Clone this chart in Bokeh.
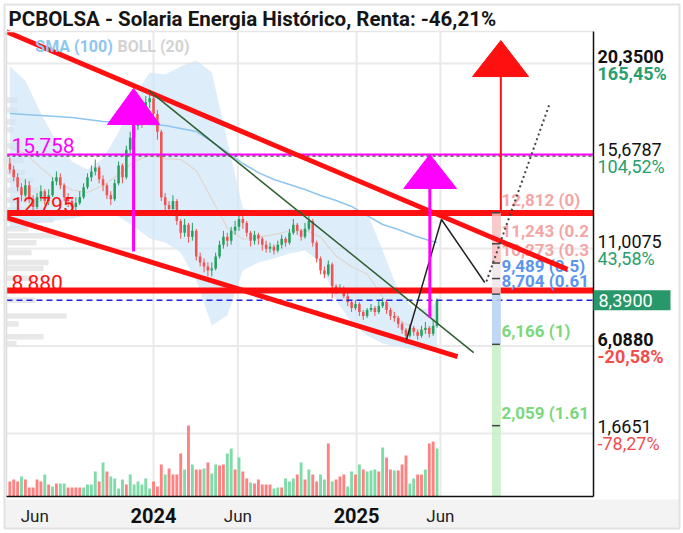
import pandas as pd
from bokeh.plotting import figure
from bokeh.models import Range1d
from bokeh.core.properties import value
from bokeh.embed import file_html
from bokeh.resources import INLINE


def ms(s):
    return pd.Timestamp(s).value / 1e6


DAY = 86400000.0
FONT = "Roboto"

# ---------------- data ----------------
week_dates = pd.date_range("2023-04-17", periods=111, freq="7D")

opens = [15.3, 15.0, 14.6, 14.1, 13.7, 14.2, 13.5, 13.1, 13.6, 13.9, 13.4, 13.7, 14.4, 14.6, 14.2, 13.6,
         13.4, 13.1, 13.3, 13.6, 14.1, 14.6, 14.9, 15.1, 14.5, 14.2, 13.7, 13.5, 14.3, 15.2, 14.6, 16.0,
         16.6, 17.2, 17.6, 17.5, 18.4, 18.6, 17.8, 16.9, 13.6, 13.2, 13.0, 13.4, 12.4, 11.8, 12.2, 11.6,
         11.9, 10.6, 10.3, 10.1, 9.9, 10.0, 10.6, 11.2, 11.6, 11.4, 11.9, 12.1, 12.5, 12.3, 11.8, 11.4,
         11.7, 11.5, 11.2, 11.0, 11.1, 10.9, 11.2, 11.5, 11.3, 11.8, 12.2, 11.9, 11.6, 12.0, 12.4, 11.3,
         10.5, 9.9, 9.7, 10.2, 9.1, 8.9, 9.0, 8.6, 8.3, 8.0, 8.2, 7.8, 7.6, 7.9, 8.0, 7.8,
         8.1, 8.3, 7.9, 7.6, 7.5, 7.2, 6.9, 6.6, 7.0, 6.8, 6.6, 6.9, 7.0, 6.7, 7.1]
closes = [15.0, 14.6, 14.1, 13.7, 14.2, 13.5, 13.1, 13.6, 13.9, 13.4, 13.7, 14.4, 14.6, 14.2, 13.6, 13.4,
          13.1, 13.3, 13.6, 14.1, 14.6, 14.9, 15.1, 14.5, 14.2, 13.7, 13.5, 14.3, 15.2, 14.6, 16.0, 16.6,
          17.2, 17.6, 17.5, 18.4, 18.6, 17.8, 16.9, 13.6, 13.2, 13.0, 13.4, 12.4, 11.8, 12.2, 11.6, 11.9,
          10.6, 10.3, 10.1, 9.9, 10.0, 10.6, 11.2, 11.6, 11.4, 11.9, 12.1, 12.5, 12.3, 11.8, 11.4, 11.7,
          11.5, 11.2, 11.0, 11.1, 10.9, 11.2, 11.5, 11.3, 11.8, 12.2, 11.9, 11.6, 12.0, 12.4, 11.3, 10.5,
          9.9, 9.7, 10.2, 9.1, 8.9, 9.0, 8.6, 8.3, 8.0, 8.2, 7.8, 7.6, 7.9, 8.0, 7.8, 8.1,
          8.3, 7.9, 7.6, 7.5, 7.2, 6.9, 6.6, 7.0, 6.8, 6.6, 6.9, 7.0, 6.7, 7.1, 8.39]
highs = [15.6, 15.2, 14.8, 14.3, 14.5, 14.4, 13.7, 13.8, 14.2, 14.0, 14.0, 14.6, 14.9, 14.8, 14.3, 13.8,
         13.5, 13.6, 13.9, 14.3, 14.8, 15.2, 15.5, 15.2, 14.7, 14.3, 13.9, 14.5, 15.4, 15.3, 16.2, 16.9,
         17.5, 18.0, 18.0, 18.7, 19.0, 18.8, 18.0, 17.0, 13.8, 13.4, 13.7, 13.5, 12.5, 12.5, 12.3, 12.3,
         12.0, 10.8, 10.5, 10.3, 10.3, 10.8, 11.4, 11.9, 11.8, 12.1, 12.4, 12.8, 12.8, 12.4, 11.9, 11.9,
         11.8, 11.6, 11.4, 11.3, 11.2, 11.4, 11.7, 11.6, 12.0, 12.5, 12.3, 12.0, 12.3, 12.8, 12.5, 11.4,
         10.6, 10.1, 10.4, 10.3, 9.2, 9.2, 9.1, 8.8, 8.4, 8.4, 8.3, 7.9, 8.0, 8.2, 8.1, 8.4,
         8.5, 8.4, 8.0, 7.8, 7.6, 7.3, 7.0, 7.2, 7.1, 6.9, 7.1, 7.3, 7.1, 7.4, 8.5]
lows = [14.8, 14.4, 13.9, 13.4, 13.6, 13.3, 12.8, 13.0, 13.4, 13.2, 13.2, 13.6, 14.2, 14.0, 13.4, 13.1,
        12.9, 12.9, 13.2, 13.5, 14.0, 14.4, 14.7, 14.3, 13.9, 13.5, 13.2, 13.4, 14.2, 14.3, 14.5, 15.8,
        16.4, 17.0, 17.1, 17.3, 18.1, 17.5, 16.5, 13.4, 12.9, 12.7, 12.8, 12.2, 11.5, 11.6, 11.3, 11.4,
        10.4, 10.1, 9.8, 9.6, 9.6, 9.9, 10.5, 11.0, 11.1, 11.2, 11.7, 11.9, 12.0, 11.6, 11.1, 11.2,
        11.2, 10.9, 10.8, 10.8, 10.7, 10.8, 11.0, 11.1, 11.2, 11.7, 11.7, 11.4, 11.5, 11.9, 11.1, 10.3,
        9.7, 9.5, 9.6, 8.5, 8.7, 8.8, 8.5, 8.1, 7.8, 7.9, 7.6, 7.4, 7.5, 7.8, 7.6, 7.7,
        8.0, 7.7, 7.4, 7.3, 7.0, 6.7, 6.2, 6.5, 6.6, 6.4, 6.5, 6.7, 6.5, 6.6, 7.0]
volumes = [15, 17, 15, 20, 17, 9, 9, 17, 15, 22, 12, 10, 13, 13, 13, 9,
           9, 9, 9, 9, 12, 12, 25, 15, 34, 25, 20, 18, 8, 17, 12, 22,
           12, 15, 12, 18, 8, 15, 10, 32, 22, 28, 22, 22, 43, 27, 71, 32,
           27, 27, 28, 34, 23, 32, 31, 32, 43, 48, 27, 39, 25, 18, 14, 13,
           17, 12, 12, 12, 8, 9, 9, 18, 15, 18, 22, 34, 17, 27, 22, 15,
           22, 17, 53, 15, 17, 20, 22, 10, 25, 22, 32, 27, 25, 26, 27, 25,
           49, 39, 27, 26, 26, 32, 41, 13, 18, 22, 22, 27, 53, 55, 48]
volume_side = ["r", "r", "r", "g", "r", "r", "r", "r", "r", "g", "r", "g", "r", "g", "g", "r",
               "r", "r", "r", "g", "g", "g", "g", "r", "g", "r", "g", "g", "g", "g", "r", "g",
               "g", "g", "g", "g", "g", "r", "r", "r", "g", "r", "r", "r", "r", "g", "r", "g",
               "r", "r", "g", "r", "g", "g", "r", "r", "g", "g", "r", "g", "r", "r", "g", "r",
               "r", "r", "r", "r", "g", "g", "r", "g", "g", "g", "r", "g", "r", "g", "r", "r",
               "g", "g", "r", "g", "r", "r", "r", "g", "g", "r", "g", "r", "g", "g", "g", "r",
               "g", "r", "r", "g", "r", "r", "r", "g", "g", "r", "r", "g", "r", "r", "g"]

band_weeks = [0, 4, 8, 12, 16, 20, 24, 28, 32, 36, 40, 44, 48, 52, 56, 60,
              64, 68, 72, 76, 80, 84, 88, 92, 96, 100, 104, 108, 110]
boll_upper = [20.20, 19.49, 17.83, 16.41, 15.40, 15.00, 15.55, 16.86, 18.68, 19.90, 19.79, 20.20, 20.50,
              19.90, 16.46, 13.03, 12.88, 12.92, 13.03, 12.92, 12.88, 12.88, 12.92, 12.82, 10.91, 8.88,
              7.92, 7.98, 8.38]
boll_lower = [12.02, 12.12, 12.32, 12.42, 12.52, 12.67, 12.82, 12.62, 12.12, 11.51, 11.31, 10.80, 9.39,
              7.12, 7.62, 9.90, 10.30, 10.50, 10.75, 10.91, 10.30, 8.38, 7.27, 6.61, 6.21, 6.06,
              5.91, 5.86, 5.96]
boll_mid = [16.11, 15.80, 15.08, 14.42, 13.96, 13.84, 14.19, 14.74, 15.40, 15.70, 15.55, 15.50, 14.95,
            13.51, 12.04, 11.47, 11.59, 11.71, 11.89, 11.92, 11.59, 10.63, 10.10, 9.72, 8.56, 7.47,
            6.92, 6.92, 7.17]
sma100 = [17.83, 17.77, 17.72, 17.67, 17.62, 17.52, 17.42, 17.37, 17.32, 17.27, 17.22, 17.07, 16.92,
          16.41, 15.86, 15.30, 14.84, 14.49, 14.24, 13.99, 13.68, 13.43, 13.13, 12.67, 12.22, 11.97,
          11.66, 11.41, 11.31]

profile_price = [18.5, 18.0, 17.4, 17.0, 16.2, 15.45, 14.85, 14.45, 13.95, 13.45, 12.95, 12.45,
                 12.0, 11.65, 11.3, 10.8, 10.3, 10.0, 9.5, 8.4, 7.6, 7.2, 6.55, 6.2]
profile_volume = [11, 11, 9, 7, 13, 17, 19, 27, 32, 37, 37, 47, 22, 54, 30, 25, 42, 37, 27, 29, 60, 12, 37, 10]

price_ticks = [20.35, 15.6787, 11.0075, 6.088, 1.6651]
price_tick_labels = ["20,3500", "15,6787", "11,0075", "6,0880", "1,6651"]
pct_tick_labels = ["165,45%", "104,52%", "43,58%", "-20,58%", "-78,27%"]
tick_bold = [True, False, False, True, False]
last_price = 8.39
last_price_label = "8,3900"
title_text = "PCBOLSA - Solaria Energia Histórico, Renta: -46,21%"

month_ticks = ["2023-06-01", "2024-06-01", "2025-06-01"]
year_ticks = ["2024-01-01", "2025-01-01"]
year_labels = ["2024", "2025"]
grid_dates = ["2024-01-01", "2024-06-01", "2025-01-01", "2025-06-01"]

resist_levels = [12.795, 8.880]
resist_labels = ["12,795", "8,880"]
magenta_level = 15.758
magenta_label = "15,758"
dashed_level = 15.6787

fib_levels = [12.812, 11.243, 10.273, 9.489, 8.704, 6.166, 2.059]
fib_labels = ["12,812 (0)", "11,243 (0.2", "10,273 (0.3", "9,489 (0.5)",
              "8,704 (0.61", "6,166 (1)", "2,059 (1.61"]
fib_colors = ["#f4a6a6", "#f4a6a6", "#f4a6a6", "#5b96ec", "#5b96ec", "#7bd87b", "#7bd87b"]

# drawings (date, price)
upper_channel = [("2023-04-11", 21.95), ("2026-01-16", 9.95)]
lower_channel = [("2023-04-11", 12.57), ("2025-07-02", 5.55)]
green_trend = [("2023-12-23", 18.99), ("2025-07-31", 5.75)]
zigzag = [("2025-04-01", 6.41), ("2025-06-03", 12.47), ("2025-08-20", 9.29)]
dotted_proj = [("2025-08-23", 9.34), ("2025-12-15", 18.33)]
# arrows: (center date, base-left date, base-right date, line bottom, base price, apex price)
magenta_arrows = [("2023-11-26", "2023-10-10", "2024-01-12", 10.855, 17.27, 19.09),
                  ("2025-05-13", "2025-03-27", "2025-06-30", 7.52, 14.04, 15.75)]
red_arrow = ("2025-09-18", "2025-07-29", "2025-11-07", 12.812, 19.69, 21.51)
fib_col = ("2025-09-02", "2025-09-18")
fib_text_date = "2025-09-19"

# ---------------- layout (pixels of the 683x533 canvas) ----------------
W, H = 683, 533
IN_L, IN_R, IN_T, IN_B = 6, 593, 31, 496
d_left, d_right = ms("2023-04-11"), ms("2026-03-04")
p_bot, p_top = -1.518, 21.966
xpp = (d_right - d_left) / (IN_R - IN_L)
ypp = (p_top - p_bot) / (IN_B - IN_T)


def X(px):
    return d_left + (px - IN_L) * xpp


def Y(py):
    return p_bot + (IN_B - py) * ypp


p = figure(width=W, height=H, x_range=Range1d(X(0), X(W)), y_range=Range1d(Y(H), Y(0)),
           x_axis_location=None, y_axis_location=None,
           output_backend="svg", toolbar_location=None,
           min_border_left=0, min_border_right=0, min_border_top=0, min_border_bottom=0)
p.extra_y_ranges = {"vol": Range1d(-(H - IN_B), IN_B)}
p.outline_line_color = None
p.grid.grid_line_color = None
p.background_fill_color = "white"
p.border_fill_color = "white"

# outer border and bottom band
p.quad(left=X(4), right=X(679), top=Y(IN_B + 3), bottom=Y(528), fill_color="#f3f3f3", line_color=None)
p.quad(left=X(4), right=X(679), top=Y(4), bottom=Y(528), fill_color=None,
       line_color="#e2e2e2", line_width=2)

# grid
p.segment(x0=[d_left] * len(price_ticks), x1=[d_right] * len(price_ticks), y0=price_ticks,
          y1=price_ticks, line_color="#e9e9e9", line_width=2)
gd = [ms(d) for d in grid_dates]
p.segment(x0=gd, x1=gd, y0=[p_bot] * len(gd), y1=[p_top] * len(gd), line_color="#e9e9e9", line_width=2)

# volume profile
p.hbar(y=profile_price, left=d_left, right=[d_left + v * xpp for v in profile_volume], height=0.28,
       fill_color="#e4e4e4", line_color=None, fill_alpha=0.85)

# bollinger + sma
band_x = [week_dates[i] for i in band_weeks]
p.varea(x=band_x, y1=boll_lower, y2=boll_upper, fill_color="#cfe6f8", fill_alpha=0.7)
p.line(band_x, boll_mid, line_color="#e0d6cf", line_width=1.2)
p.line(band_x, sma100, line_color="#8ec6f0", line_width=1.5)

# volume bars
vol_col = ["#7fdba8" if s == "g" else "#ff8282" for s in volume_side]
p.vbar(x=week_dates, top=volumes, bottom=0, width=5.2 * DAY, fill_color=vol_col,
       line_color=None, y_range_name="vol")

# candles
c_col = ["#26a05e" if c >= o else "#f25252" for o, c in zip(opens, closes)]
p.segment(x0=week_dates, y0=lows, x1=week_dates, y1=highs, line_color=c_col, line_width=1)
p.vbar(x=week_dates, top=[max(o, c) for o, c in zip(opens, closes)],
       bottom=[min(o, c) for o, c in zip(opens, closes)], width=4.6 * DAY,
       fill_color=c_col, line_color=None)

# horizontal levels
p.segment(x0=[d_left], x1=[d_right], y0=[dashed_level], y1=[dashed_level], line_color="#555555",
          line_width=1.5, line_dash="3 3")
p.segment(x0=[d_left], x1=[d_right], y0=[magenta_level], y1=[magenta_level], line_color="#ff00ff",
          line_width=2)
p.segment(x0=[d_left] * 2, x1=[d_right] * 2, y0=resist_levels, y1=resist_levels,
          line_color="#ff1010", line_width=6)
p.segment(x0=[d_left], x1=[d_right], y0=[last_price], y1=[last_price], line_color="#2222ee",
          line_width=1.5, line_dash="6 4")

# fib column
fc0, fc1 = ms(fib_col[0]), ms(fib_col[1])
p.quad(left=fc0, right=fc1, top=fib_levels[0], bottom=fib_levels[2], fill_color="#f6bcbc",
       fill_alpha=0.8, line_color=None)
p.quad(left=fc0, right=fc1, top=fib_levels[2], bottom=fib_levels[4], fill_color="#ece4ea",
       fill_alpha=0.8, line_color=None)
p.quad(left=fc0, right=fc1, top=fib_levels[4], bottom=fib_levels[5], fill_color="#b9d3f4",
       fill_alpha=0.9, line_color=None)
p.quad(left=fc0, right=fc1, top=fib_levels[5], bottom=p_bot, fill_color="#c9f0c9",
       fill_alpha=0.9, line_color=None)
p.segment(x0=[fc0] * len(fib_levels), x1=[fc1 - 1.5 * DAY] * len(fib_levels), y0=fib_levels,
          y1=fib_levels, line_color="#444444", line_width=1.5)
p.text(x=[ms(fib_text_date)] * len(fib_levels), y=fib_levels, text=fib_labels,
       text_color=fib_colors, text_font=value(FONT), text_font_style="bold",
       text_font_size="17px", text_baseline="bottom", text_align="left", y_offset=-3)


def line_of(pts, **kw):
    p.line([ms(d) for d, _ in pts], [v for _, v in pts], **kw)


line_of(upper_channel, line_color="#ff1010", line_width=5)
line_of(lower_channel, line_color="#ff1010", line_width=5)
line_of(green_trend, line_color="#2f5f2f", line_width=1.5)
line_of(zigzag, line_color="#222222", line_width=1.5)
line_of(dotted_proj, line_color="#444444", line_width=2, line_dash="2 3")

# arrows
for cd, bl, br, lo, bp, ap in magenta_arrows:
    p.line([ms(cd), ms(cd)], [lo, bp], line_color="#ff00ff", line_width=3)
    p.patch([ms(bl), ms(br), ms(cd)], [bp, bp, ap], fill_color="#ff00ff", line_color="#ff00ff")
cd, bl, br, lo, bp, ap = red_arrow
p.line([ms(cd), ms(cd)], [lo, bp], line_color="#ff1010", line_width=2)
p.patch([ms(bl), ms(br), ms(cd)], [bp, bp, ap], fill_color="#ff1010", line_color="#ff1010")

# chart frame lines
p.segment(x0=[d_left], x1=[d_left], y0=[p_bot], y1=[p_top], line_color="#dddddd", line_width=1.5)
p.segment(x0=[d_left], x1=[d_right], y0=[p_top], y1=[p_top], line_color="#e6e6e6", line_width=1.5)
p.segment(x0=[d_left], x1=[d_right], y0=[p_bot], y1=[p_bot], line_color="#111111", line_width=1.5)
p.segment(x0=[d_right], x1=[d_right], y0=[p_bot], y1=[p_top], line_color="#111111", line_width=1.5)

# level labels on left
p.text(x=[d_left], y=[magenta_level], text=[magenta_label], text_color="#ff00ff", x_offset=5,
       text_font=value(FONT), text_font_size="21px", text_baseline="bottom", y_offset=-1)
p.text(x=[d_left] * 2, y=resist_levels, text=resist_labels, text_color="#ff1010", x_offset=5,
       text_font=value(FONT), text_font_size="21px", text_baseline="bottom", y_offset=-1)

# indicator legend
p.text(x=[ms("2023-06-02")], y=[21.21], text=["SMA (100)"], text_color="#8ec6f0",
       text_font=value(FONT), text_font_style="bold", text_font_size="16px", text_baseline="middle")
p.text(x=[ms("2023-10-28")], y=[21.21], text=["BOLL (20)"], text_color="#d2d2d2",
       text_font=value(FONT), text_font_style="bold", text_font_size="16px", text_baseline="middle")

# title
p.text(x=[d_left], y=[p_top], text=[title_text], x_offset=2, y_offset=-13, text_color="#151515",
       text_font=value(FONT), text_font_style="bold", text_font_size="20.5px", text_baseline="middle")

# x labels
p.text(x=[ms(d) for d in month_ticks], y=[p_bot] * 3, text=["Jun"] * 3, y_offset=19,
       text_color="#222222", text_font=value(FONT), text_font_size="17px",
       text_align="center", text_baseline="middle")
p.text(x=[ms(d) for d in year_ticks], y=[p_bot] * 2, text=year_labels, y_offset=19,
       text_color="#111111", text_font=value(FONT), text_font_style="bold", text_font_size="20px",
       text_align="center", text_baseline="middle")

# right labels
styles = ["bold" if b else "normal" for b in tick_bold]
pcols = ["#f24e4e" if s.startswith("-") else "#27a06d" for s in pct_tick_labels]
p.text(x=[d_right] * 5, y=price_ticks, text=price_tick_labels, x_offset=4, text_color="#111111",
       text_font=value(FONT), text_font_size="18px", text_font_style=styles, text_baseline="bottom")
p.text(x=[d_right] * 5, y=price_ticks, text=pct_tick_labels, x_offset=4, text_color=pcols,
       text_font=value(FONT), text_font_size="18px", text_font_style=styles, text_baseline="top")

# last price box
p.quad(left=[d_right], right=[d_right + 77 * xpp], top=[last_price + 10 * ypp],
       bottom=[last_price - 10 * ypp], fill_color="#28986a", line_color=None)
p.text(x=[d_right], y=[last_price], text=[last_price_label], x_offset=5, text_color="white",
       text_font=value(FONT), text_font_size="18px", text_baseline="middle")

open("out.html", "w").write(file_html(p, INLINE))
